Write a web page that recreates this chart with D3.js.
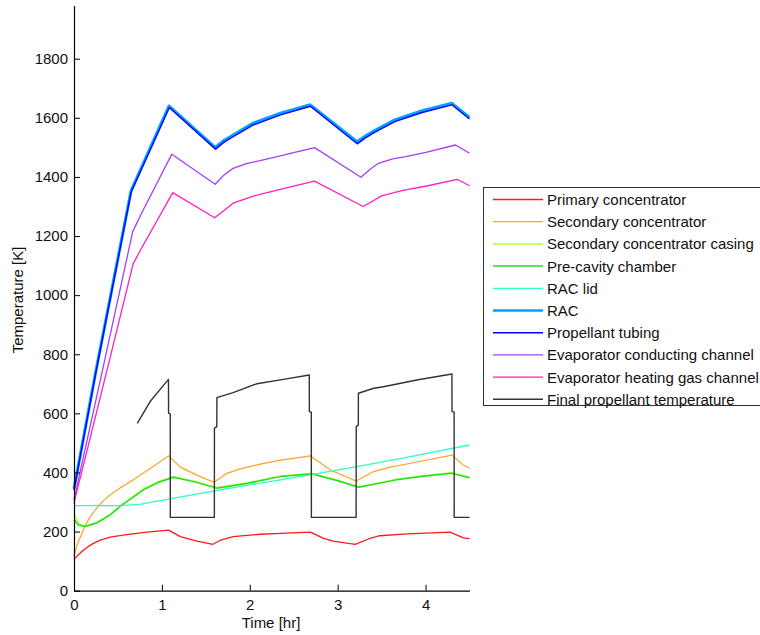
<!DOCTYPE html>
<html>
<head>
<meta charset="utf-8">
<script src="https://cdn.jsdelivr.net/npm/d3@7"></script>
<style>
  html, body { margin: 0; padding: 0; background: #fff; }
  svg { display: block; }
  text { font-family: "Liberation Sans", Arial, sans-serif; fill: #111; }
</style>
</head>
<body>
<svg id="chart" width="760" height="635"></svg>
<script>
// Thermal history of the solar thermal propulsion components, [time hr, temperature K]
const primaryConcentrator = [[0,106],[0.05,122],[0.1,135],[0.16,149],[0.22,160],[0.3,171],[0.41,181],[0.6,190],[0.83,198],[1.075,205],[1.21,183],[1.4,168],[1.58,157],[1.66,170],[1.81,183],[2.12,191],[2.35,194],[2.69,198],[2.84,177],[2.95,168],[3.2,157],[3.35,175],[3.48,186],[3.79,192],[4.0,195],[4.28,198],[4.43,179],[4.5,176]];
const secondaryConcentrator = [[0,118],[0.03,150],[0.068,178],[0.12,215],[0.18,248],[0.26,280],[0.33,303],[0.41,324],[0.52,347],[0.675,375],[0.9,420],[1.075,456],[1.21,418],[1.435,386],[1.594,367],[1.74,397],[1.9,413],[2.12,428],[2.35,442],[2.69,456],[2.92,408],[3.21,371],[3.41,403],[3.6,418],[3.86,433],[4.3,459],[4.43,425],[4.5,414]];
const secondaryCasing = [[0,258],[0.05,228],[0.125,218],[0.25,230],[0.41,258],[0.52,286],[0.79,344],[0.95,368],[1.13,386],[1.36,371],[1.625,349],[1.97,365],[2.35,388],[2.71,397],[3.0,374],[3.24,351],[3.67,377],[4.0,390],[4.3,399],[4.5,384]];
const preCavityChamber = [[0,240],[0.05,222],[0.125,217],[0.25,228],[0.41,256],[0.52,284],[0.79,341],[0.95,365],[1.13,384],[1.36,369],[1.625,347],[1.97,363],[2.35,386],[2.71,395],[3.0,372],[3.24,350],[3.67,375],[4.0,388],[4.3,397],[4.5,382]];
const racLid = [[0,288],[0.52,288],[0.75,292],[0.98,305],[1.55,335],[2.0,358],[2.35,375],[2.57,386],[3.22,420],[3.8,452],[4.5,493]];
const rac = [[0,345],[0.25,745],[0.65,1354],[1.08,1640],[1.606,1500],[1.7,1522],[1.81,1542],[2.04,1582],[2.35,1616],[2.688,1644],[3.22,1519],[3.32,1539],[3.42,1557],[3.65,1593],[3.96,1624],[4.3,1649],[4.5,1601]];
const propellantTubing = [[0,340],[0.25,740],[0.65,1349],[1.085,1635],[1.61,1494],[1.7,1516],[1.81,1536],[2.04,1576],[2.35,1610],[2.69,1639],[3.222,1512],[3.32,1533],[3.42,1551],[3.65,1587],[3.96,1618],[4.3,1644],[4.5,1596]];
const evapConducting = [[0,307],[0.353,785],[0.668,1215],[0.77,1278],[1.113,1477],[1.606,1375],[1.7,1405],[1.81,1429],[1.97,1446],[2.12,1455],[2.346,1471],[2.737,1499],[3.265,1399],[3.365,1425],[3.465,1446],[3.625,1461],[3.775,1469],[4.005,1483],[4.34,1508],[4.5,1480]];
const evapHeatingGas = [[0,296],[0.399,774],[0.672,1105],[0.755,1152],[1.124,1347],[1.6,1262],[1.7,1285],[1.81,1311],[2.04,1335],[2.346,1358],[2.737,1386],[3.29,1300],[3.39,1317],[3.5,1336],[3.73,1354],[4.04,1371],[4.36,1392],[4.5,1370]];
const finalPropellant = [[0.72,566],[0.866,640],[1.075,715],[1.076,601],[1.095,598],[1.096,248],[1.597,248],[1.598,550],[1.625,555],[1.626,653],[1.81,670],[2.08,700],[2.4,716],[2.677,730],[2.678,606],[2.7,604],[2.701,248],[3.21,248],[3.211,555],[3.235,560],[3.236,668],[3.41,685],[3.52,690],[3.9,713],[4.3,733],[4.301,606],[4.325,604],[4.326,248],[4.5,248]];

const seriesNames = ["Primary concentrator","Secondary concentrator","Secondary concentrator casing","Pre-cavity chamber","RAC lid","RAC","Propellant tubing","Evaporator conducting channel","Evaporator heating gas channel","Final propellant temperature"];
const seriesData = [primaryConcentrator, secondaryConcentrator, secondaryCasing, preCavityChamber, racLid, rac, propellantTubing, evapConducting, evapHeatingGas, finalPropellant];
const seriesColors = ["#ff1a1a","#ffa326","#b4ff3c","#1fe01f","#2dffc4","#00a2ff","#0000ff","#a63dff","#ff1ec8","#333333"];
const seriesWidths = [1.3,1.2,1.5,1.5,1.3,3,1.4,1.3,1.3,1.4];

const xTicks = [0,1,2,3,4];
const yTicks = [0,200,400,600,800,1000,1200,1400,1600,1800];

const svg = d3.select("#chart");
svg.append("rect").attr("width",760).attr("height",635).attr("fill","#fff");

const x = d3.scaleLinear().domain([0,4.5]).range([74,469.5]);
const y = d3.scaleLinear().domain([0,1980]).range([590.7,5.5]);

const line = d3.line().x(d => x(d[0])).y(d => y(d[1]));

const plot = svg.append("g");
seriesData.forEach((data, i) => {
  plot.append("path")
    .datum(data)
    .attr("d", line)
    .attr("fill","none")
    .attr("stroke", seriesColors[i])
    .attr("stroke-width", seriesWidths[i])
    .attr("stroke-linejoin","round");
});

// Axes: ticks point inward
const xAxis = d3.axisBottom(x).tickValues(xTicks).tickFormat(d3.format("d")).tickSizeInner(-6).tickSizeOuter(0).tickPadding(9);
const yAxis = d3.axisLeft(y).tickValues(yTicks).tickFormat(d3.format("d")).tickSizeInner(-6).tickSizeOuter(0).tickPadding(6);

const gx = svg.append("g").attr("transform","translate(0,590.7)").call(xAxis);
const gy = svg.append("g").attr("transform","translate(74,0)").call(yAxis);
[gx, gy].forEach(g => {
  g.select(".domain").attr("stroke","#000").attr("stroke-width",1.2);
  g.selectAll(".tick line").attr("stroke","#000");
  g.selectAll(".tick text").attr("font-size",15).attr("font-family","Liberation Sans, Arial, sans-serif").attr("fill","#111");
});

svg.append("text").attr("x",271).attr("y",628).attr("text-anchor","middle").attr("font-size",15).text("Time [hr]");
svg.append("text").attr("transform","translate(23,300) rotate(-90)").attr("text-anchor","middle").attr("font-size",15).text("Temperature [K]");

// Legend
const legend = svg.append("g");
legend.append("rect").attr("x",483.5).attr("y",187.5).attr("width",300).attr("height",218)
  .attr("fill","#fff").attr("stroke","#333").attr("stroke-width",1);
seriesNames.forEach((name, i) => {
  const ly = 199.5 + i * 22.2;
  legend.append("line").attr("x1",493).attr("x2",543).attr("y1",ly).attr("y2",ly)
    .attr("stroke", seriesColors[i]).attr("stroke-width", Math.min(seriesWidths[i], 2.5));
  legend.append("text").attr("x",547).attr("y",ly).attr("dy","0.36em").attr("font-size",15).text(name);
});
</script>
</body>
</html>
